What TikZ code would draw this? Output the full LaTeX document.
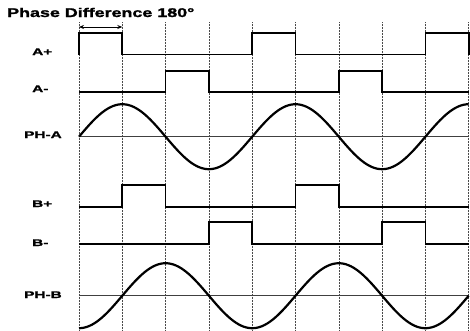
\documentclass[tikz,border=0pt]{standalone}
\usepackage{fontspec}
\setmainfont{Liberation Sans}
\newfontfamily\titlefont[FakeStretch=1.42, FakeBold=1.6]{Liberation Sans}
\newfontfamily\sigfont[FakeStretch=1.6, FakeBold=1.6]{Liberation Sans}
\definecolor{GridGrey}{HTML}{4A4A4A}
\definecolor{AxisGrey}{HTML}{404040}
\usetikzlibrary{arrows.meta}

\begin{document}
\begin{tikzpicture}[x=1pt, y=-1pt,
  lbl/.style={anchor=base west, inner sep=0pt, font=\sigfont\bfseries\fontsize{9.6}{11}\selectfont},
  grid line/.style={GridGrey, densely dotted, line width=0.5pt},
  axis/.style={AxisGrey, line width=0.7pt},
  sig/.style={line width=1.7pt, line join=miter},
  wave/.style={line width=2.2pt}]
  \useasboundingbox (0,0) rectangle (470,330);
  \node[anchor=base west, inner sep=0pt, font=\titlefont\bfseries\fontsize{12.6}{14}\selectfont]
    (title) at (7,17) {Phase Difference 180°};
  \node[lbl] (ap) at (32,55) {A+};
  \node[lbl] (am) at (32,92) {A-};
  \node[lbl] (pha) at (24,138) {PH-A};
  \node[lbl] (bp) at (32,207) {B+};
  \node[lbl] (bm) at (32,246) {B-};
  \node[lbl] (phb) at (24,298) {PH-B};
  \begin{scope}[xshift=79pt, x=43.3pt]
    \foreach \k in {0,...,9}
      \draw[grid line] (\k,22) -- (\k,330);
    \coordinate (w0) at (0,27);
    \coordinate (w1) at (1,27);
    \draw[{Stealth[length=5pt,width=4pt]}-{Stealth[length=5pt,width=4pt]}, line width=0.7pt] (w0) -- (w1);
    % channel A
    \draw[sig] (0,54.5) -- (0,33) -- (1,33) -- (1,54.5) -- (4,54.5) -- (4,33) -- (5,33) -- (5,54.5)
      -- (8,54.5) -- (8,33) -- (9,33) -- (9,54.5);
    \draw[sig] (0,91.7) -- (2,91.7) -- (2,70.7) -- (3,70.7) -- (3,91.7) -- (6,91.7) -- (6,70.7)
      -- (7,70.7) -- (7,91.7) -- (9,91.7);
    \draw[axis] (0,136.7) -- (9,136.7);
    \draw[wave] plot[domain=0:9, samples=150, smooth] (\x, {136.7-32.5*sin(90*\x)});
    % channel B
    \draw[sig] (0,207) -- (1,207) -- (1,185) -- (2,185) -- (2,207) -- (5,207) -- (5,185)
      -- (6,185) -- (6,207) -- (9,207);
    \draw[sig] (0,244.3) -- (3,244.3) -- (3,222.3) -- (4,222.3) -- (4,244.3) -- (7,244.3)
      -- (7,222.3) -- (8,222.3) -- (8,244.3) -- (9,244.3);
    \draw[axis] (0,295.7) -- (9,295.7);
    \draw[wave] plot[domain=0:9, samples=150, smooth] (\x, {295.7+32.5*cos(90*\x)});
  \end{scope}
\end{tikzpicture}
\end{document}
